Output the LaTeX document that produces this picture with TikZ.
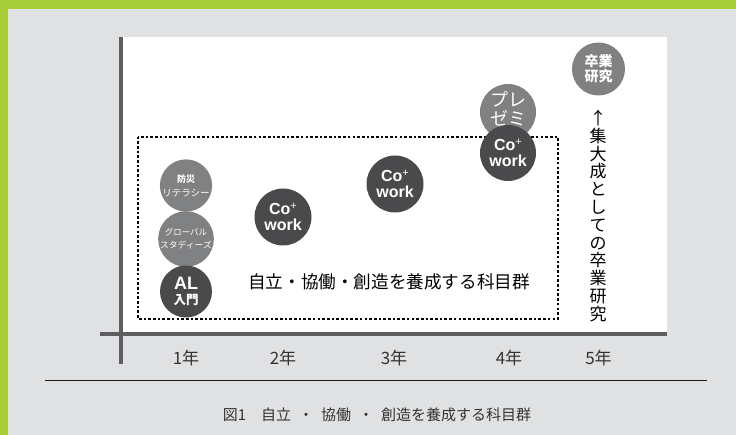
\documentclass[tikz,border=0pt]{standalone}
\usepackage{fontspec}
\setmainfont{Noto Sans CJK JP}
\newfontfamily\lat{Liberation Sans}
\definecolor{bggray}{HTML}{E0E1E3}
\definecolor{lime}{HTML}{A6CE39}
\definecolor{axisgray}{HTML}{5E5E60}
\definecolor{darkc}{HTML}{4A4A4C}
\definecolor{midc}{HTML}{808183}
\definecolor{txt}{HTML}{333333}
\begin{document}
\begin{tikzpicture}[x=1pt,y=-1pt,
  darkcirc/.style={circle,fill=darkc,inner sep=0pt,text=white,align=center},
  midcirc/.style={circle,fill=midc,inner sep=0pt,text=white,align=center},
  yearlabel/.style={text=txt,font=\fontsize{17}{17}\selectfont,inner sep=0pt},
  axisline/.style={axisgray,line width=3.2pt},
  cowork/.style={darkcirc,minimum size=57pt,font=\lat\bfseries\fontsize{16}{15.5}\selectfont}
]
\useasboundingbox (0,0) rectangle (736,435);
\fill[bggray] (0,0) rectangle (736,435);
\fill[lime] (0,0) rectangle (736,9);
\fill[lime] (0,0) rectangle (8,435);
\fill[white] (121,37) rectangle (667,334);
% axes
\coordinate (vtop) at (121,37);
\coordinate (vbot) at (121,364);
\coordinate (hleft) at (100,334);
\coordinate (hright) at (667,334);
\draw[axisline] (vtop) -- (vbot);
\draw[axisline] (hleft) -- (hright);
% dotted box
\coordinate (boxa) at (138.3,136.6);
\coordinate (boxb) at (557.5,319.3);
\draw[black,line width=2pt,dash pattern=on 2.6pt off 2.1pt] (boxa) rectangle (boxb);
% year 1 circles
\node[midcirc,minimum size=52pt] (bousai) at (186,185.5)
  {{\bfseries\fontsize{9}{10}\selectfont 防災}\\[2pt]{\fontsize{9.5}{11}\selectfont リテラシー}};
\node[midcirc,minimum size=52pt] (global) at (186,239)
  {{\fontsize{8.5}{10}\selectfont グローバル}\\[1pt]{\fontsize{8.8}{11}\selectfont スタディーズ}};
\node[darkcirc,minimum size=52pt] (al) at (186,291.5)
  {{\lat\bfseries\fontsize{18}{15}\selectfont AL}\\[3pt]{\bfseries\fontsize{12.5}{12}\selectfont 入門}};
% co+work circles
\node[cowork] (cw2) at (283,217) {Co\raisebox{0.3em}{\mdseries\fontsize{11}{10}\selectfont+}\\work};
\node[cowork] (cw3) at (395,184) {Co\raisebox{0.3em}{\mdseries\fontsize{11}{10}\selectfont+}\\work};
\node[midcirc,minimum size=56pt,font=\fontsize{18}{19}\selectfont] (preze) at (508,112) {\mbox{}\\[-10pt]プレ\\ゼミ};
\node[cowork,minimum size=56pt] (cw4) at (508,153) {Co\raisebox{0.3em}{\mdseries\fontsize{11}{10}\selectfont+}\\work};
\node[midcirc,minimum size=53pt,font=\bfseries\fontsize{14}{15}\selectfont] (sotsu) at (598.5,69) {卒業\\研究};
% vertical text
\node[text=black,align=center,inner sep=0pt,font=\fontsize{17}{17.8}\selectfont] (vert) at (598,216)
  {↑\\集\\大\\成\\と\\し\\て\\の\\卒\\業\\研\\究};
% main label
\node[text=black,inner sep=0pt,font=\fontsize{17.6}{18}\selectfont] (lbl) at (389,282) {自立・協働・創造を養成する科目群};
% years
\node[yearlabel] (y1) at (186,358) {1年};
\node[yearlabel] (y2) at (283,358) {2年};
\node[yearlabel] (y3) at (394,358) {3年};
\node[yearlabel] (y4) at (509,358) {4年};
\node[yearlabel] (y5) at (598.5,358) {5年};
% caption
\coordinate (capl) at (45,380.3);
\coordinate (capr) at (707,380.3);
\draw[black!90,line width=1.1pt] (capl) -- (capr);
\node[text=txt,inner sep=0pt,font=\fontsize{15}{15}\selectfont] (cap) at (377,415)
  {図1\hspace{1em}自立\hspace{0.5em}・\hspace{0.5em}協働\hspace{0.5em}・\hspace{0.5em}創造を養成する科目群};
\end{tikzpicture}
\end{document}
